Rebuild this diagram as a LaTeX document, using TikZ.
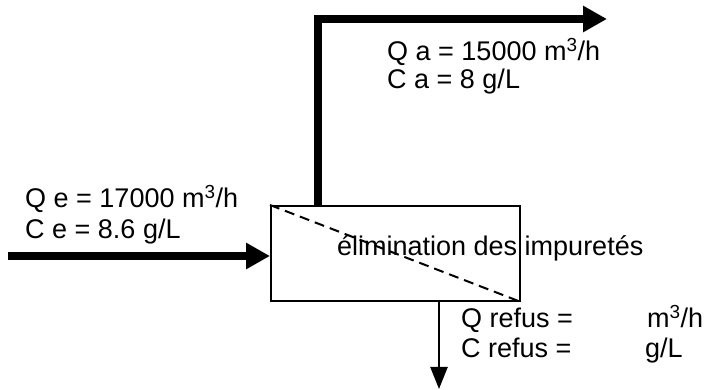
\documentclass[tikz,border=0pt]{standalone}
\usepackage{fontspec}
\setmainfont{Liberation Sans}
\usetikzlibrary{arrows.meta}
\begin{document}
\begin{tikzpicture}[x=1pt,y=-1pt,
  lbl/.style={anchor=base west,inner sep=0pt,font=\fontsize{27}{30}\selectfont},
  thick arrow/.style={line width=7.5pt,-{Triangle[length=24pt,width=25pt]}},
  thin arrow/.style={line width=2.5pt,-{Triangle[length=22pt,width=17pt]}}]
\useasboundingbox (0,0) rectangle (721,390);
\node[draw,line width=2pt,minimum width=249pt,minimum height=95pt,inner sep=0pt] (box) at (395.5,253.5) {};
\draw[line width=2pt,dash pattern=on 10pt off 6pt] (box.north west) -- (box.south east);
\node[lbl] (name) at (337,256) {élimination des impuretés};
% inlet
\coordinate (in) at (8,256);
\draw[thick arrow] (in) -- (in -| box.west);
% outlet top
\coordinate (up) at (318,206);
\coordinate (out) at (607,19);
\draw[thick arrow,line join=miter] (up) |- (out);
% refuse
\coordinate (dn) at (439,301);
\coordinate (dnend) at (439,389);
\draw[thin arrow] (dn) -- (dnend);
% labels
\node[lbl] (qa) at (387,61) {Q a = 15000 m\textsuperscript{3}/h};
\node[lbl] (ca) at (387,89) {C a = 8 g/L};
\node[lbl] (qe) at (25,208) {Q e = 17000 m\textsuperscript{3}/h};
\node[lbl] (ce) at (25,239) {C e = 8.6 g/L};
\node[lbl] (qr) at (461,328) {Q refus =};
\node[lbl] (cr) at (461,358) {C refus =};
\node[lbl] (qru) at (647,328) {m\textsuperscript{3}/h};
\node[lbl] (cru) at (645,358) {g/L};
\end{tikzpicture}
\end{document}
